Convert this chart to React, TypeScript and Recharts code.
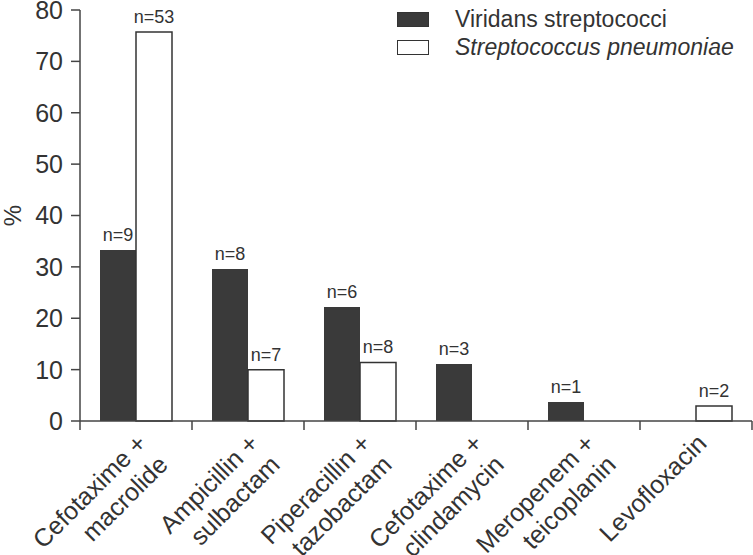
import React from "react";
import { BarChart, Bar, XAxis, YAxis, LabelList } from "recharts";

const categories = [
  "Cefotaxime +\nmacrolide",
  "Ampicillin +\nsulbactam",
  "Piperacillin +\ntazobactam",
  "Cefotaxime +\nclindamycin",
  "Meropenem +\nteicoplanin",
  "Levofloxacin",
];
const viridans = [33.3, 29.6, 22.2, 11.1, 3.7, null];
const pneumoniae = [75.7, 10.0, 11.4, null, null, 2.9];
const viridansN = [9, 8, 6, 3, 1, null];
const pneumoniaeN = [53, 7, 8, null, null, 2];
const yTicks = [0, 10, 20, 30, 40, 50, 60, 70, 80];

const data = categories.map((name, i) => ({
  name,
  viridans: viridans[i],
  pneumoniae: pneumoniae[i],
  vN: viridansN[i],
  pN: pneumoniaeN[i],
}));

const W = 753;
const H = 555;
const LEFT = 80;
const RIGHT = 1;
const FONT = "'Liberation Sans', Arial, sans-serif";
const INK = "#333";
const AXIS = "#444";
const half = (W - LEFT - RIGHT) / categories.length / 2;

function CategoryTick(props: any) {
  const { x, y, payload, index } = props;
  const lines = String(payload.value).split("\n");
  return (
    <g>
      <line x1={x - half} y1={y} x2={x - half} y2={y + 9} stroke={AXIS} strokeWidth={1.5} />
      {index === categories.length - 1 && (
        <line x1={x + half} y1={y} x2={x + half} y2={y + 9} stroke={AXIS} strokeWidth={1.5} />
      )}
      <g transform={`translate(${x + 12},${y + 24})`}>
        <text transform="rotate(-45)" textAnchor="end" fontSize={25} fill={INK} fontFamily={FONT}>
          {lines.map((l, i) => (
            <tspan key={i} x={0} dy={i === 0 ? 0 : 30}>
              {l}
            </tspan>
          ))}
        </text>
      </g>
    </g>
  );
}

function countLabel(props: any) {
  const { x, y, width, value } = props;
  if (value === null || value === undefined) return null;
  return (
    <text x={x + width / 2} y={y - 9} textAnchor="middle" fontSize={18} fill={INK} fontFamily={FONT}>
      n={value}
    </text>
  );
}

function LegendBox() {
  const items = [
    { label: "Viridans streptococci", fill: "#3a3a3a", italic: false },
    { label: "Streptococcus pneumoniae", fill: "#fff", italic: true },
  ];
  return (
    <div style={{ position: "absolute", left: 397, top: 5, fontFamily: FONT }}>
      {items.map((it) => (
        <div key={it.label} style={{ display: "flex", alignItems: "center", height: 28 }}>
          <div
            style={{
              width: 30,
              height: 13,
              background: it.fill,
              border: `1.5px solid ${INK}`,
              marginRight: 26,
            }}
          />
          <span style={{ fontSize: 23, color: INK, fontStyle: it.italic ? "italic" : "normal" }}>
            {it.label}
          </span>
        </div>
      ))}
    </div>
  );
}

function PercentLabel(props: any) {
  const { viewBox } = props;
  const cy = viewBox.y + viewBox.height / 2;
  return (
    <text
      x={12}
      y={cy}
      transform={`rotate(-90, 12, ${cy})`}
      textAnchor="middle"
      dominantBaseline="central"
      fontSize={24}
      fill={INK}
      fontFamily={FONT}
    >
      %
    </text>
  );
}

export default function App() {
  return (
    <div style={{ position: "absolute", left: 0, top: 0, width: W, height: H, background: "#fff" }}>
      <BarChart
        width={W}
        height={H}
        data={data}
        margin={{ top: 10, right: RIGHT, left: 0, bottom: 0 }}
        barCategoryGap={20}
        barGap={0}
      >
        <XAxis
          dataKey="name"
          height={134}
          interval={0}
          tickLine={false}
          tickSize={0}
          tickMargin={0}
          tick={<CategoryTick />}
          axisLine={{ stroke: AXIS, strokeWidth: 1.5 }}
        />
        <YAxis
          width={LEFT}
          domain={[0, 80]}
          ticks={yTicks}
          interval={0}
          tickSize={9}
          tickMargin={8}
          tick={{ fontSize: 25, fill: INK, fontFamily: FONT }}
          tickLine={{ stroke: AXIS, strokeWidth: 1.5 }}
          axisLine={{ stroke: AXIS, strokeWidth: 1.5 }}
          label={<PercentLabel />}
        />
        <Bar dataKey="viridans" fill="#3a3a3a" isAnimationActive={false}>
          <LabelList dataKey="vN" content={countLabel} />
        </Bar>
        <Bar dataKey="pneumoniae" fill="#fff" stroke={INK} strokeWidth={1.5} isAnimationActive={false}>
          <LabelList dataKey="pN" content={countLabel} />
        </Bar>
      </BarChart>
      <LegendBox />
    </div>
  );
}
